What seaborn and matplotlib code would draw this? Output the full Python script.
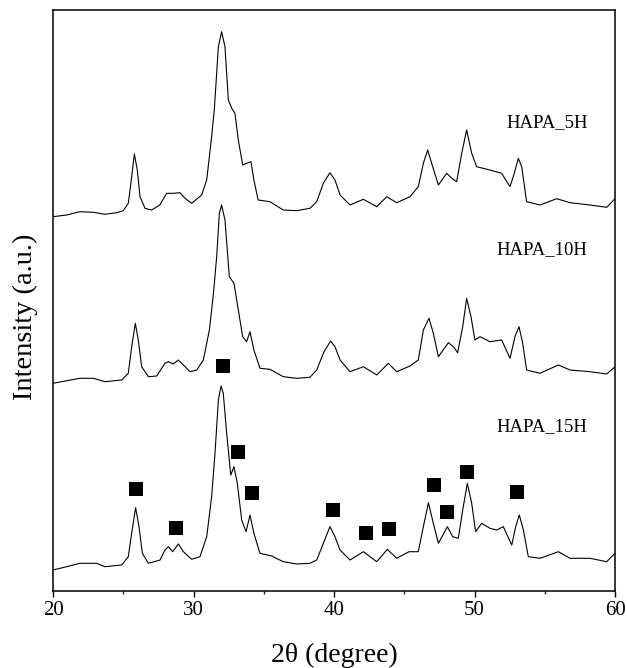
import numpy as np
import pandas as pd
import matplotlib
matplotlib.use("Agg")
import matplotlib.pyplot as plt
import seaborn as sns
from matplotlib.ticker import MultipleLocator, NullLocator

# ---------------- data (stacked display units) -------------
tt_5h = [20.00, 20.97, 21.92, 22.87, 23.70, 24.53, 25.00, 25.36, 25.60, 25.79, 26.00, 26.19,
         26.55, 27.02, 27.60, 28.09, 28.56, 29.04, 29.40, 29.87, 30.58, 30.94, 31.29, 31.48,
         31.77, 32.00, 32.24, 32.48, 32.72, 32.95, 33.19, 33.50, 33.78, 34.09, 34.30, 34.60,
         35.44, 36.39, 37.34, 38.29, 38.77, 39.24, 39.71, 40.07, 40.43, 41.14, 42.09, 43.04,
         43.75, 44.46, 45.41, 46.00, 46.36, 46.67, 46.95, 47.43, 48.02, 48.38, 48.73, 49.09,
         49.44, 49.80, 50.15, 51.10, 51.93, 52.53, 52.83, 53.12, 53.36, 53.71, 54.66, 55.85,
         56.80, 58.22, 59.41, 60.00]
int_5h = [374.3, 376.0, 379.3, 378.7, 376.7, 378.3, 380.3, 387.7, 414.3, 437.0, 421.0, 394.3,
          382.7, 381.0, 386.0, 397.7, 397.7, 398.3, 392.7, 387.7, 396.0, 411.0, 454.3, 481.0,
          544.3, 559.3, 544.3, 491.0, 482.7, 477.7, 451.0, 426.0, 427.7, 429.3, 411.0, 391.0,
          389.3, 381.0, 380.3, 382.7, 389.3, 407.7, 418.3, 411.0, 396.0, 386.0, 391.7, 384.3,
          394.3, 388.3, 394.3, 404.3, 427.7, 441.0, 427.7, 406.0, 417.7, 412.7, 409.3, 437.7,
          461.0, 437.7, 424.3, 421.0, 417.7, 404.3, 417.7, 432.7, 424.3, 389.3, 386.0, 392.3,
          388.3, 386.0, 383.7, 392.3]

tt_10h = [20.00, 20.97, 21.92, 22.87, 23.70, 24.89, 25.36, 25.60, 25.86, 26.07, 26.31, 26.79,
          27.38, 27.97, 28.21, 28.56, 28.92, 29.28, 29.75, 30.23, 30.70, 31.13, 31.41, 31.65,
          31.84, 32.00, 32.24, 32.55, 32.88, 33.19, 33.50, 33.78, 34.02, 34.30, 34.73, 35.44,
          36.39, 37.34, 38.29, 38.77, 39.29, 39.76, 40.07, 40.43, 41.14, 42.09, 43.04, 43.87,
          44.46, 45.41, 46.00, 46.36, 46.76, 47.07, 47.43, 48.14, 48.50, 48.80, 49.16, 49.44,
          49.75, 50.03, 50.39, 51.10, 51.93, 52.53, 52.88, 53.17, 53.43, 53.71, 54.66, 55.97,
          56.80, 58.22, 59.41, 60.00]
int_10h = [207.7, 210.3, 212.7, 212.7, 209.3, 211.0, 217.7, 244.3, 267.7, 251.0, 224.3, 214.3,
           215.0, 227.7, 229.3, 227.0, 231.0, 226.0, 219.3, 221.0, 231.0, 261.0, 296.0, 334.3,
           377.7, 386.0, 371.0, 314.3, 307.7, 281.0, 254.3, 249.3, 259.3, 241.0, 222.7, 221.7,
           214.3, 212.7, 213.7, 221.0, 239.3, 250.0, 244.3, 231.0, 219.3, 224.3, 216.0, 227.7,
           219.3, 225.0, 231.0, 261.0, 272.7, 257.7, 234.3, 248.3, 244.3, 238.3, 264.3, 292.7,
           274.3, 251.0, 254.3, 249.3, 251.0, 232.7, 254.3, 264.3, 247.7, 221.0, 217.7, 226.0,
           221.0, 219.3, 217.0, 224.3]

tt_15h = [20.00, 20.97, 21.92, 23.10, 23.70, 24.89, 25.36, 25.60, 25.88, 26.12, 26.36, 26.79,
          27.62, 27.97, 28.21, 28.52, 28.92, 29.28, 29.87, 30.46, 30.94, 31.29, 31.53, 31.77,
          31.96, 32.12, 32.36, 32.65, 32.88, 33.12, 33.43, 33.74, 34.02, 34.30, 34.73, 35.56,
          36.39, 37.34, 38.29, 38.77, 39.24, 39.71, 40.07, 40.43, 41.14, 42.09, 43.04, 43.80,
          44.46, 45.34, 46.00, 46.36, 46.72, 47.07, 47.43, 48.07, 48.45, 48.85, 49.16, 49.49,
          49.80, 50.08, 50.51, 51.10, 51.58, 52.05, 52.65, 52.93, 53.19, 53.48, 53.83, 54.66,
          55.97, 56.80, 58.22, 59.41, 60.00]
int_15h = [21.0, 24.3, 27.7, 27.7, 24.3, 26.0, 34.3, 57.7, 83.3, 64.3, 37.7, 27.7,
           31.0, 41.0, 44.3, 39.3, 47.0, 39.3, 31.7, 34.3, 54.3, 94.3, 137.7, 191.0,
           205.0, 197.7, 157.7, 116.0, 124.3, 107.7, 71.0, 59.3, 76.0, 57.7, 37.7, 35.0,
           29.3, 27.0, 27.7, 31.0, 47.7, 64.3, 54.3, 41.0, 31.0, 39.3, 29.3, 41.7,
           32.7, 39.3, 39.3, 64.3, 88.3, 67.7, 47.7, 64.3, 54.3, 52.7, 81.0, 107.7,
           87.7, 59.3, 67.7, 62.7, 61.0, 64.3, 46.0, 64.3, 76.0, 61.0, 34.3, 32.7,
           39.3, 32.7, 32.7, 29.3, 37.7]

marker_tt = [25.88, 28.75, 32.08, 33.19, 34.19, 39.90, 42.26, 43.91, 47.12, 48.07, 49.49, 53.05]
marker_int = [102.5, 63.3, 225.3, 139.3, 98.3, 81.0, 57.7, 61.7, 106.3, 79.0, 118.7, 99.0]

sample_names = ["HAPA_5H", "HAPA_10H", "HAPA_15H"]
label_tt = [55.2, 54.77, 54.77]
label_int = [468.0, 341.0, 164.0]

x_ticks = [20, 30, 40, 50, 60]

# ---------------- plotting -------------
sns.set_theme(style="ticks")
plt.rcParams["font.family"] = ["Liberation Serif", "DejaVu Serif"]
plt.rcParams["mathtext.fontset"] = "stix"

fig = plt.figure(figsize=(6.27, 6.68), dpi=100)
ax = fig.add_axes([53 / 627, 77 / 668, 562 / 627, 581 / 668])

frames = []
for name, tt, it in zip(sample_names, [tt_5h, tt_10h, tt_15h], [int_5h, int_10h, int_15h]):
    frames.append(pd.DataFrame({"two_theta": tt, "intensity": it, "sample": name}))
df = pd.concat(frames, ignore_index=True)

for name in sample_names:
    sub = df[df["sample"] == name]
    sns.lineplot(data=sub, x="two_theta", y="intensity", ax=ax, color="black",
                 linewidth=0.8, estimator=None, sort=False, legend=False)

mk = pd.DataFrame({"two_theta": marker_tt, "intensity": marker_int})
sns.scatterplot(data=mk, x="two_theta", y="intensity", ax=ax, marker="s", s=100,
                color="black", edgecolor="black", linewidth=0, legend=False, zorder=5)

for name, lx, ly in zip(sample_names, label_tt, label_int):
    ax.text(lx, ly, name, ha="center", va="center", fontsize=13.5, color="black")

ax.set_xlim(20, 60)
ax.set_ylim(0, 581)
ax.set_xticks(x_ticks)
ax.xaxis.set_minor_locator(MultipleLocator(5))
ax.yaxis.set_major_locator(NullLocator())
ax.yaxis.set_minor_locator(NullLocator())
ax.tick_params(axis="x", which="major", direction="out", length=4.5, width=1.0,
               labelsize=15, pad=3, colors="black")
ax.tick_params(axis="x", which="minor", direction="out", length=2.5, width=1.0)

for sp in ax.spines.values():
    sp.set_visible(True)
    sp.set_linewidth(1.1)
    sp.set_color("black")

ax.set_xlabel("2θ (degree)", fontsize=20, color="black")
ax.set_ylabel("Intensity (a.u.)", fontsize=20.5, color="black")
ax.xaxis.label.set_va("center")
ax.yaxis.label.set_va("center")
ax.xaxis.set_label_coords(0.5, (591 - 655) / 581)
ax.yaxis.set_label_coords((25 - 53) / 562, (591 - 317) / 581)

fig.savefig("out.png", dpi=100)
